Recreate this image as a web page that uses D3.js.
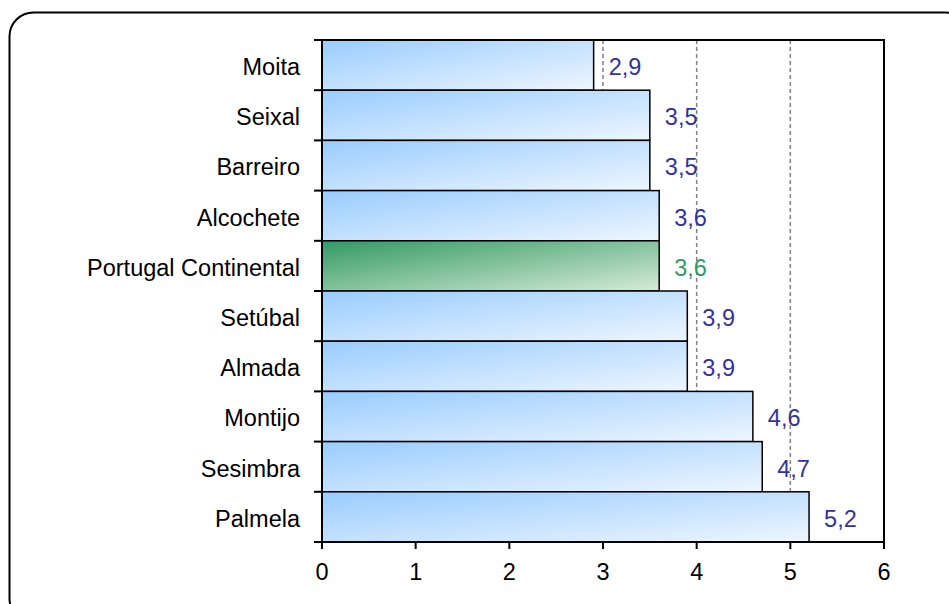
<!DOCTYPE html>
<html><head><meta charset="utf-8">
<script src="https://cdn.jsdelivr.net/npm/d3@7"></script>
<style>body{margin:0;background:#fff}svg{display:block}</style>
</head><body>
<svg id="c" width="949" height="604"></svg>
<script>
const categories = ["Moita","Seixal","Barreiro","Alcochete","Portugal Continental","Setúbal","Almada","Montijo","Sesimbra","Palmela"];
const values = [2.9,3.5,3.5,3.6,3.6,3.9,3.9,4.6,4.7,5.2];
const valueLabels = ["2,9","3,5","3,5","3,6","3,6","3,9","3,9","4,6","4,7","5,2"];
const highlight = "Portugal Continental";
const xTicks = [0,1,2,3,4,5,6];
const gridValues = [3,4,5];

(function(){
const svg = d3.select("#c");
const font = "'Liberation Sans', Arial, sans-serif";
const fs = 23.5;

const defs = svg.append("defs");
const gb = defs.append("linearGradient").attr("id","gBlue").attr("x1",0).attr("y1",0).attr("x2",1).attr("y2",1);
gb.append("stop").attr("offset","0%").attr("stop-color","#99CCFF");
gb.append("stop").attr("offset","100%").attr("stop-color","#EEF6FF");
const gg = defs.append("linearGradient").attr("id","gGreen").attr("x1",0).attr("y1",0).attr("x2",1).attr("y2",1);
gg.append("stop").attr("offset","0%").attr("stop-color","#339966");
gg.append("stop").attr("offset","100%").attr("stop-color","#D6EBD6");

// outer rounded frame
svg.append("rect").attr("x",9.5).attr("y",12.5).attr("width",960).attr("height",610)
  .attr("rx",24).attr("ry",24).attr("fill","none").attr("stroke","#000").attr("stroke-width",2);

const pL = 322, pR = 884, pT = 40, pB = 542;
const x = d3.scaleLinear().domain([0,6]).range([pL,pR]);
const y = d3.scaleBand().domain(categories).range([pT,pB]).padding(0);

// grid
svg.append("g").selectAll("line").data(gridValues).join("line")
  .attr("x1",d=>x(d)).attr("x2",d=>x(d)).attr("y1",pT).attr("y2",pB)
  .attr("stroke","#808080").attr("stroke-width",1.5).attr("stroke-dasharray","4,3");

// bars
svg.append("g").selectAll("rect").data(categories).join("rect")
  .attr("x",x(0)).attr("y",d=>y(d)).attr("width",(d,i)=>x(values[i])-x(0)).attr("height",y.bandwidth())
  .attr("fill",d=>d===highlight?"url(#gGreen)":"url(#gBlue)")
  .attr("stroke","#000").attr("stroke-width",1.5);

// value labels
svg.append("g").selectAll("text").data(categories).join("text")
  .attr("x",(d,i)=>x(values[i])+15).attr("y",d=>y(d)+y.bandwidth()/2).attr("dy","0.42em")
  .attr("font-family",font).attr("font-size",fs)
  .attr("fill",d=>d===highlight?"#339966":"#333399")
  .text((d,i)=>valueLabels[i]);

// plot frame (top & right)
svg.append("path").attr("d",`M${pL},${pT}H${pR}V${pB}`).attr("fill","none").attr("stroke","#000").attr("stroke-width",2);

// y axis
const yAxis = svg.append("g").attr("transform",`translate(${pL},0)`);
yAxis.append("line").attr("x1",0).attr("x2",0).attr("y1",pT).attr("y2",pB).attr("stroke","#000").attr("stroke-width",2);
const yTickPos = categories.map(c=>y(c)).concat([pB]);
yAxis.selectAll("line.t").data(yTickPos).join("line").attr("class","t")
  .attr("x1",-8).attr("x2",0).attr("y1",d=>d).attr("y2",d=>d).attr("stroke","#000").attr("stroke-width",2);
yAxis.selectAll("text").data(categories).join("text")
  .attr("x",-22).attr("y",d=>y(d)+y.bandwidth()/2).attr("dy","0.42em")
  .attr("text-anchor","end").attr("font-family",font).attr("font-size",fs).attr("fill","#000").text(d=>d);

// x axis
const xAxis = svg.append("g").attr("transform",`translate(0,${pB})`);
xAxis.append("line").attr("x1",pL).attr("x2",pR).attr("stroke","#000").attr("stroke-width",2);
xAxis.selectAll("line.t").data(xTicks).join("line").attr("class","t")
  .attr("x1",d=>x(d)).attr("x2",d=>x(d)).attr("y1",0).attr("y2",7).attr("stroke","#000").attr("stroke-width",2);
xAxis.selectAll("text").data(xTicks).join("text")
  .attr("x",d=>x(d)).attr("y",38).attr("text-anchor","middle")
  .attr("font-family",font).attr("font-size",fs).attr("fill","#000").text(d=>d);
})();
</script>
</body></html>
